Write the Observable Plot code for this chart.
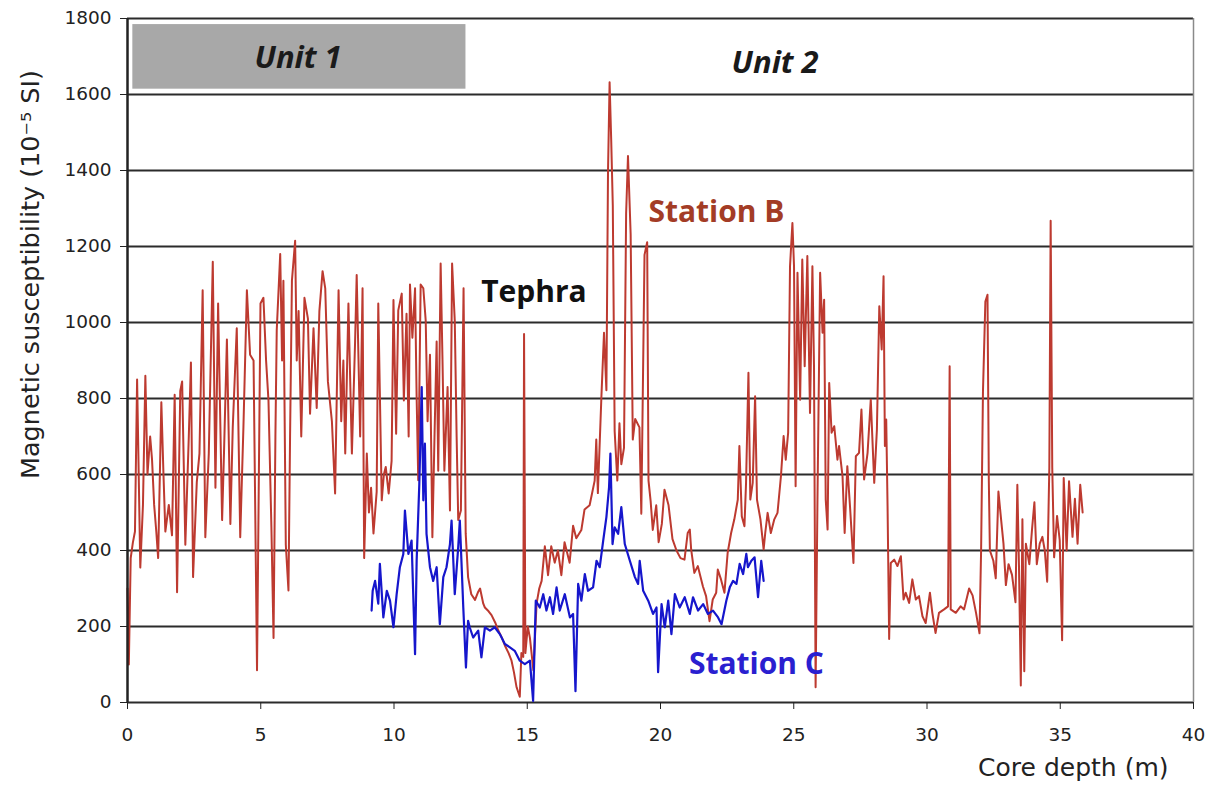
<!DOCTYPE html>
<html>
<head>
<meta charset="utf-8">
<script src="https://cdn.jsdelivr.net/npm/d3@7"></script>
<script src="https://cdn.jsdelivr.net/npm/@observablehq/plot@0.6"></script>
<style>
  html, body { margin: 0; padding: 0; background: #fff; }
</style>
</head>
<body>
<div id="chart"></div>
<script>
// ---- Data ----
const xTicks = [0, 5, 10, 15, 20, 25, 30, 35, 40];
const yTicks = [0, 200, 400, 600, 800, 1000, 1200, 1400, 1600, 1800];

// Station B: [core depth (m), magnetic susceptibility (1e-5 SI)]
const stationB = [
  [0.0,300],[0.05,100],[0.12,380],[0.2,420],[0.28,450],[0.36,850],[0.48,355],[0.58,520],[0.67,860],[0.75,600],
  [0.85,700],[0.92,640],[1.0,520],[1.08,450],[1.15,380],[1.27,790],[1.35,600],[1.42,450],[1.55,520],[1.67,440],
  [1.77,810],[1.86,290],[1.98,820],[2.05,845],[2.17,415],[2.3,700],[2.38,895],[2.46,330],[2.6,580],[2.7,655],
  [2.82,1085],[2.92,435],[3.05,655],[3.2,1160],[3.3,565],[3.4,1050],[3.55,480],[3.62,655],[3.73,955],[3.86,470],
  [3.95,725],[4.1,985],[4.23,435],[4.35,725],[4.48,1085],[4.6,915],[4.73,900],[4.86,85],[4.99,1050],
  [5.1,1065],[5.2,900],[5.29,795],[5.4,460],[5.48,170],[5.55,700],[5.6,980],[5.73,1180],[5.8,900],[5.85,1110],
  [5.94,415],[6.04,295],[6.1,700],[6.17,1110],[6.29,1215],[6.35,900],[6.42,1030],[6.52,700],[6.64,1065],[6.77,1010],
  [6.85,760],[6.98,985],[7.1,775],[7.2,1030],[7.32,1135],[7.42,1090],[7.52,845],[7.67,740],[7.79,550],[7.92,1085],
  [8.02,740],[8.1,900],[8.17,655],[8.29,1050],[8.42,655],[8.54,950],[8.6,1125],[8.73,700],[8.82,1090],[8.88,380],
  [8.98,655],[9.06,500],[9.14,565],[9.23,445],[9.35,555],[9.41,1050],[9.54,532],[9.62,600],[9.69,620],[9.8,550],
  [9.91,636],[9.98,1059],[10.08,707],[10.16,1032],[10.29,1076],
  [10.37,795],[10.47,1023],[10.55,700],[10.6,1100],[10.69,960],[10.79,1090],[10.85,800],[10.91,585],[11.0,1100],
  [11.1,1090],[11.19,1005],[11.26,740],[11.35,915],[11.44,435],[11.52,700],[11.6,950],[11.66,610],[11.75,1155],
  [11.82,900],[11.89,610],[12.01,830],[12.1,505],[12.18,1155],[12.28,1005],[12.35,700],[12.41,480],[12.51,505],
  [12.61,1090],[12.69,445],[12.78,330],[12.9,285],[13.04,270],[13.15,290],[13.23,300],[13.35,260],[13.41,250],
  [13.55,240],[13.66,230],[13.8,210],[13.91,190],[14.05,170],[14.16,150],[14.3,130],[14.41,110],[14.5,80],
  [14.6,40],[14.72,15],[14.78,130],[14.85,120],[14.88,970],[14.93,130],[15.02,200],[15.1,170],[15.23,85],
  [15.35,260],[15.45,300],[15.54,320],
  [15.66,411],[15.78,335],[15.9,411],[16.03,368],[16.15,400],[16.28,335],[16.4,422],[16.59,368],[16.72,465],
  [16.84,432],[17.03,454],[17.15,508],[17.34,519],[17.53,584],[17.59,692],[17.65,551],[17.78,800],[17.88,973],
  [17.97,822],[18.03,1395],[18.09,1632],[18.15,1481],[18.21,1308],[18.28,714],[18.38,584],[18.46,735],[18.53,627],
  [18.63,670],[18.71,1286],[18.78,1438],[18.88,1232],[18.96,692],[19.05,746],[19.21,724],[19.28,497],[19.4,1178],
  [19.5,1211],[19.55,584],[19.63,530],[19.71,454],[19.84,519],[19.93,422],[20.05,470],[20.15,560],[20.3,520],
  [20.45,430],[20.6,400],[20.75,380],[20.9,376],
  [21.02,446],[21.1,455],[21.15,403],[21.27,341],[21.4,359],[21.59,306],[21.71,280],[21.84,214],[21.96,271],
  [22.09,289],[22.15,350],[22.27,324],[22.4,289],[22.52,394],[22.65,446],[22.77,482],[22.9,534],[22.96,675],
  [23.05,490],[23.15,464],[23.21,578],[23.3,868],[23.37,534],[23.46,578],[23.55,806],[23.62,534],[23.75,482],
  [23.87,403],[23.93,446],[24.02,499],[24.14,446],[24.27,482],[24.39,499],[24.52,596],[24.62,701],[24.7,639],
  [24.79,710],[24.86,1148],[24.95,1262],[25.01,1148],[25.07,569],[25.14,1131],[25.24,797],[25.32,1166],[25.41,885],
  [25.51,1175],[25.61,762],[25.7,1148],[25.76,885],[25.82,40],[25.89,534],[25.99,1131],[26.08,973],
  [26.14,1060],[26.2,534],[26.27,455],[26.33,841],[26.42,710],[26.52,727],[26.64,639],[26.7,675],[26.83,596],
  [26.91,446],[27.01,622],[27.11,517],[27.24,367],[27.33,648],[27.45,657],[27.54,771],[27.64,587],[27.77,657],
  [27.89,797],[28.02,578],[28.12,718],[28.21,1043],[28.3,929],[28.37,1122],[28.42,675],[28.47,745],[28.52,517],
  [28.58,167],[28.64,367],[28.77,376],[28.89,359],[29.02,385],[29.12,271],[29.2,289],[29.33,262],[29.45,324],
  [29.58,271],[29.7,280],[29.83,227],[29.95,209],[30.11,289],[30.2,236],[30.32,183],[30.45,236],[30.64,245],
  [30.79,253],[30.85,885],[30.89,245],[31.08,236],[31.26,253],
  [31.39,245],[31.58,300],[31.71,282],[31.84,236],[31.97,182],[32.03,400],[32.1,818],[32.19,1055],[32.27,1073],
  [32.32,582],[32.36,400],[32.49,373],[32.58,327],[32.68,555],[32.78,482],[32.87,418],[32.96,309],[33.06,364],
  [33.19,336],[33.32,264],[33.39,573],[33.45,364],[33.52,45],[33.58,482],[33.65,82],[33.71,418],[33.84,364],
  [33.94,455],[34.03,527],[34.12,364],[34.23,418],[34.33,436],[34.42,400],[34.51,318],[34.59,618],[34.64,1268],
  [34.7,618],[34.77,382],[34.88,491],[34.98,427],[35.07,164],[35.13,591],[35.24,400],[35.33,582],[35.46,436],
  [35.55,536],[35.65,418],[35.75,573],[35.84,500]
];

// Station C: [core depth (m), magnetic susceptibility (1e-5 SI)]
const stationC = [
  [9.16,242],[9.2,294],[9.29,320],[9.41,260],[9.47,365],[9.6,224],[9.73,294],[9.85,268],[9.98,198],[10.1,285],
  [10.22,356],[10.35,391],[10.41,505],[10.54,391],[10.66,426],[10.79,127],[10.85,373],[10.95,575],[11.04,830],
  [11.1,532],[11.16,681],[11.22,444],[11.35,356],[11.47,320],[11.6,356],[11.72,206],[11.85,330],[11.97,356],
  [12.1,417],[12.16,479],[12.28,285],[12.41,409],[12.47,479],[12.6,250],[12.7,92],[12.78,215],[12.84,198],
  [12.97,171],[13.16,189],[13.28,119],[13.41,198],[13.6,189],[13.78,198],[13.97,180],[14.16,154],[14.35,145],
  [14.53,136],[14.72,110],[14.91,101],[15.1,110],[15.22,4],[15.32,268],[15.47,250],[15.6,285],[15.72,242],
  [15.85,277],[15.97,233],[16.1,303],[16.22,242],[16.41,285],[16.6,224],[16.72,233],[16.81,30],[16.91,312],
  [17.03,268],[17.16,338],[17.28,294],[17.47,303],[17.6,373],[17.72,356],[17.85,426],[17.97,488],[18.07,567],
  [18.12,655],[18.2,417],[18.28,461],[18.41,444],[18.53,514],[18.66,417],[18.85,373],[19.04,330],[19.16,312],
  [19.22,373],[19.35,294],[19.54,268],[19.72,233],[19.85,250],[19.91,80],[20.04,259],[20.16,198],[20.29,268],
  [20.41,180],[20.54,285],[20.72,250],[20.91,277],[21.1,233],[21.22,277],[21.41,242],[21.6,259],[21.78,233],
  [21.97,242],[22.16,224],[22.29,206],[22.47,268],[22.6,303],[22.72,320],[22.85,312],[22.97,365],[23.1,338],
  [23.22,391],[23.28,356],[23.41,373],[23.53,382],[23.66,277],[23.78,373],[23.87,320]
];

// Lithological units and text annotations
const units = [{name: "Unit 1", from: 0.2, to: 12.7}];
const unitLabels = [
  {text: "Unit 1", depth: 6.4, value: 1697},
  {text: "Unit 2", depth: 24.3, value: 1684}
];
const annotations = [
  {text: "Tephra", depth: 15.25, value: 1079, color: "#111111"},
  {text: "Station B", depth: 22.1, value: 1289, color: "#a33c26"},
  {text: "Station C", depth: 23.6, value: 100, color: "#2a1fd0"}
];
const xLabel = "Core depth (m)";
const yLabel = "Magnetic susceptibility (10⁻⁵ SI)";

const toRows = arr => arr.map(([depth, value]) => ({depth, value}));
const B = toRows(stationB);
const C = toRows(stationC);

const chart = Plot.plot({
  width: 1215,
  height: 794,
  marginLeft: 127,
  marginRight: 22,
  marginTop: 18,
  marginBottom: 92,
  style: {fontFamily: "DejaVu Sans, Verdana, sans-serif", fontSize: "18.5px", color: "#222", background: "#fff"},
  x: {domain: [0, 40], label: null},
  y: {domain: [0, 1800], label: null},
  marks: [
    Plot.rect(units, {x1: "from", x2: "to", y1: 1614, y2: 1784, fill: "#a8a8a8"}),
    Plot.ruleY(yTicks, {stroke: "#2b2b2b", strokeWidth: 2}),
    Plot.ruleX([40], {stroke: "#8a8a8a", strokeWidth: 1.5}),
    Plot.line(B, {x: "depth", y: "value", stroke: "#bd3a30", strokeWidth: 2}),
    Plot.line(C, {x: "depth", y: "value", stroke: "#1616cc", strokeWidth: 2.2}),
    Plot.ruleX([0], {stroke: "#222", strokeWidth: 2.5}),
    Plot.axisX({ticks: xTicks, tickSize: 7, tickPadding: 18, tickFormat: d => String(d), label: null, fontSize: 18.5}),
    Plot.axisY({ticks: yTicks, tickSize: 7, tickPadding: 9, tickFormat: d => String(d), label: null, fontSize: 18.5}),
    Plot.text(unitLabels, {
      x: "depth", y: "value", text: "text", fill: "#1a1a1a",
      fontFamily: "Open Sans, sans-serif", fontWeight: "bold", fontStyle: "italic", fontSize: 31,
      textAnchor: "middle", lineAnchor: "middle"
    }),
    Plot.text(annotations, {
      x: "depth", y: "value", text: "text", fill: "color",
      fontFamily: "Open Sans, sans-serif", fontWeight: "bold", fontSize: 30,
      textAnchor: "middle", lineAnchor: "middle"
    }),
    Plot.text([xLabel], {text: d => d, frameAnchor: "bottom-right", textAnchor: "end", lineAnchor: "middle", dx: -25, dy: 65, fontSize: 25, fill: "#222"}),
    Plot.text([yLabel], {text: d => d, frameAnchor: "top-left", rotate: -90, textAnchor: "middle", lineAnchor: "middle", dx: -97, dy: 256, fontSize: 25.5, fill: "#222"})
  ]
});
document.getElementById("chart").appendChild(chart);
</script>
</body>
</html>
